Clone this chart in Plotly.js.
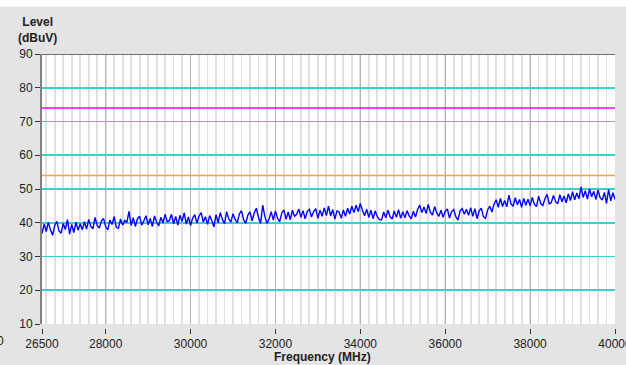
<!DOCTYPE html>
<html>
<head>
<meta charset="utf-8">
<script src="https://cdn.plot.ly/plotly-3.0.1.min.js"></script>
<style>html,body{margin:0;padding:0;background:#e4e4e4;}#chart{width:626px;height:365px;}</style>
</head>
<body>
<div id="chart"></div>
<script>
// Sweep grid (MHz)
const freqStart = 26500;
const freqStep = 50;
// Measured level (dBuV), one value per sweep step
const level = [
  36.8,39.6,37.4,40.1,37.9,36.3,39.2,40.4,37.6,36.9,39.8,38.0,40.9,36.6,39.5,37.1,40.2,37.8,39.7,37.9,
  40.3,38.1,41.0,38.9,38.2,41.6,39.2,38.4,40.5,41.3,38.8,37.9,40.8,39.5,41.8,38.7,38.3,41.1,39.3,40.7,
  40.1,43.4,39.2,41.5,38.9,41.2,41.9,39.3,40.6,42.1,39.4,41.3,38.9,42.0,40.2,39.1,41.6,39.9,42.5,40.3,
  40.6,42.5,39.7,41.9,39.3,42.2,40.4,42.9,39.6,41.7,39.2,41.4,42.4,39.9,42.0,43.0,40.2,41.8,39.5,42.1,
  40.7,38.8,42.4,40.0,43.0,41.0,39.7,43.3,41.1,40.2,42.7,41.0,40.0,42.6,43.6,40.9,39.8,42.3,43.2,40.6,
  42.9,44.3,41.6,39.8,45.2,41.9,39.8,41.1,43.3,40.8,43.5,41.3,40.3,42.9,43.8,41.0,43.2,40.9,43.7,41.9,
  42.5,44.1,41.6,43.6,41.2,43.4,44.0,41.7,43.3,44.2,41.3,43.7,41.9,44.4,42.1,44.9,42.0,43.9,41.1,43.5,
  43.2,41.3,43.8,41.9,44.3,42.6,44.9,43.0,45.2,43.3,45.7,43.6,42.1,44.0,41.6,43.7,41.2,43.5,41.8,40.9,
  40.8,43.2,41.5,43.7,41.8,41.1,43.5,41.6,43.9,41.3,43.3,41.5,43.6,42.0,41.2,43.4,41.7,44.0,45.2,43.0,
  44.7,42.7,45.4,43.1,42.3,44.8,42.9,41.9,43.7,41.6,43.4,44.1,41.4,43.3,43.9,41.8,40.8,43.5,44.2,42.5,
  44.0,42.2,44.5,41.9,44.2,41.2,43.5,44.3,41.8,41.3,43.8,44.9,43.2,45.5,46.8,44.6,47.2,44.8,46.6,44.7,
  48.2,45.6,44.9,47.4,45.3,46.9,44.6,47.2,45.2,47.0,45.0,47.5,45.5,44.8,47.9,45.7,45.1,47.1,48.4,45.6,
  46.0,48.1,46.3,45.6,48.3,46.2,47.9,45.9,48.6,46.6,49.2,46.8,48.8,47.1,50.6,47.5,49.5,47.0,50.0,47.7,
  49.3,46.9,49.7,47.4,46.7,49.0,45.7,49.8,46.5,48.9,46.9
];
const freq = level.map((_, i) => freqStart + i * freqStep);

const xTickVals = [26500, 28000, 30000, 32000, 34000, 36000, 38000, 40000];
const yTickVals = [10, 20, 30, 40, 50, 60, 70, 80, 90];
const limitMagenta = 74;
const limitOrange = 54;

const font = "Liberation Sans, Arial, sans-serif";

const data = [{
  x: freq, y: level, type: 'scatter', mode: 'lines',
  line: {color: '#0000ff', width: 1.4, simplify: false}, hoverinfo: 'skip'
}];

const layout = {
  width: 626, height: 365,
  margin: {l: 42, r: 11, t: 54, b: 37, pad: 0},
  paper_bgcolor: '#e4e4e4',
  plot_bgcolor: '#ffffff',
  showlegend: false,
  font: {family: font, size: 12, color: '#222222'},
  xaxis: {
    range: [26500, 40000],
    tickmode: 'array', tickvals: xTickVals, ticktext: xTickVals.map(String),
    showgrid: true, gridcolor: '#b4b4b4', gridwidth: 1,
    minor: {tickmode: 'linear', tick0: 0, dtick: 200, showgrid: true, gridcolor: '#e0e0e0', gridwidth: 1.8, ticks: ''},
    ticks: 'outside', ticklen: 5, tickcolor: '#333333', tickwidth: 1,
    showline: false, zeroline: false,
    anchor: 'free', position: 0,
    ticklabeloverflow: 'allow',
    tickfont: {family: font, size: 12, color: '#222222'}
  },
  yaxis: {
    range: [10, 90], domain: [0.0146, 1],
    tickmode: 'array', tickvals: yTickVals,
    showgrid: true, gridcolor: '#3ccfcf', gridwidth: 1.6,
    ticks: 'outside', ticklen: 5, tickcolor: '#333333', tickwidth: 1,
    showline: true, linecolor: '#808080', linewidth: 2,
    zeroline: false,
    tickfont: {family: font, size: 12, color: '#222222'}
  },
  shapes: [
    {type: 'line', xref: 'x', yref: 'y', x0: 26500, x1: 40000, y0: limitMagenta, y1: limitMagenta,
     line: {color: '#ff00ff', width: 1.6}},
    {type: 'line', xref: 'x', yref: 'y', x0: 26500, x1: 40000, y0: limitOrange, y1: limitOrange,
     line: {color: '#f7a440', width: 1.6}},
    {type: 'line', xref: 'x', yref: 'y', x0: 26500, x1: 40000, y0: 90, y1: 90,
     line: {color: '#707070', width: 2}},
    {type: 'rect', xref: 'paper', yref: 'paper', x0: -0.1, x1: 1.1, y0: 1.172, y1: 1.25,
     fillcolor: '#ffffff', line: {width: 0}, layer: 'below'}
  ],
  annotations: [
    {text: '<b>Level</b><br><b>(dBuV)</b>', xref: 'paper', yref: 'paper',
     x: (37.5 - 42) / 573, y: (328 - 30) / 274, xanchor: 'center', yanchor: 'middle',
     showarrow: false, font: {family: font, size: 12, color: '#222222'}, align: 'center'},
    {text: '<b>Frequency (MHz)</b>', xref: 'paper', yref: 'paper',
     x: (322 - 42) / 573, y: (328 - 357) / 274, xanchor: 'center', yanchor: 'middle',
     showarrow: false, font: {family: font, size: 12, color: '#222222'}},
    {text: '0', xref: 'paper', yref: 'paper',
     x: (6 - 42) / 573, y: (328 - 341) / 274, xanchor: 'right', yanchor: 'middle',
     showarrow: false, font: {family: font, size: 12, color: '#222222'}}
  ]
};

Plotly.newPlot('chart', data, layout, {staticPlot: true, displayModeBar: false});
</script>
</body>
</html>
